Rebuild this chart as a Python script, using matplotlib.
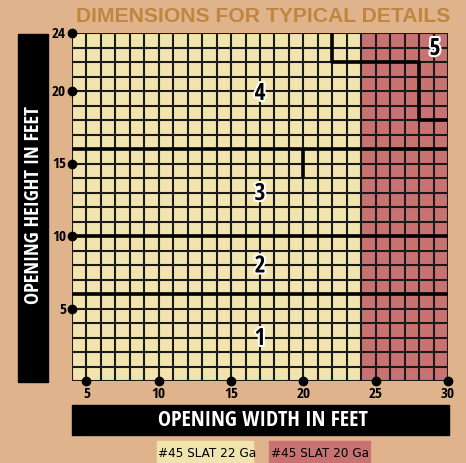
import matplotlib
matplotlib.use('Agg')
import matplotlib.pyplot as plt
from matplotlib.patches import Rectangle
import matplotlib.patheffects as pe

# chart data
width_range = [4, 30]
height_range = [0, 24]
width_ticks = [5, 10, 15, 20, 25, 30]
height_ticks = [5, 10, 15, 20, 24]
ga20_from = 24  # widths above this use 20 Ga slats

# detail boundaries (x list, y list)
bound_x = [[4, 30], [4, 30], [4, 30], [20, 20], [22, 22, 28, 28, 30]]
bound_y = [[6, 6], [10, 10], [16, 16], [14, 16], [24, 22, 22, 18, 18]]

detail_labels = ['1', '2', '3', '4', '5']
label_x = [17, 17, 17, 17, 29.1]
label_y = [2.9, 7.9, 12.9, 19.8, 22.9]

legend_labels = ['#45 SLAT 22 Ga', '#45 SLAT 20 Ga']

bg = '#DFB48C'
yellow = '#F1E4AE'
red = '#C87272'
cond = ['Open Sans Condensed', 'DejaVu Sans']

fig = plt.figure(figsize=(4.66, 4.64), dpi=100, facecolor=bg)
W, H = 466, 464
ax = fig.add_axes([72 / W, 1 - 382 / H, (448 - 72) / W, (382 - 34) / H])
ax.set_xlim(width_range)
ax.set_ylim(height_range)

ax.axvspan(width_range[0], ga20_from, color=yellow, lw=0)
ax.axvspan(ga20_from, width_range[1], color=red, lw=0)

# 1 ft grid
for x in range(width_range[0], width_range[1] + 1):
    ax.axvline(x, color='#1a1a1a', lw=1.5, zorder=2)
for y in range(height_range[0], height_range[1] + 1):
    ax.axhline(y, color='#1a1a1a', lw=1.5, zorder=2)

for bx, by in zip(bound_x, bound_y):
    ax.plot(bx, by, color='black', lw=2.6, zorder=3, solid_capstyle='butt')

for t, x, y in zip(detail_labels, label_x, label_y):
    ax.text(x, y, t, ha='center', va='center', fontsize=17, fontweight='bold',
            family=cond, color='black', zorder=5,
            path_effects=[pe.withStroke(linewidth=3, foreground='white')])

# tick dots
ax.plot(width_ticks, [height_range[0]] * len(width_ticks), 'o', color='black',
        ms=6, clip_on=False, zorder=6)
ax.plot([width_range[0]] * len(height_ticks), height_ticks, 'o', color='black',
        ms=6, clip_on=False, zorder=6)
for x in width_ticks:
    ax.text(x, -0.85, str(x), ha='center', va='center', fontsize=11,
            fontweight='bold', family=cond)
for y in height_ticks:
    ax.text(width_range[0] - 0.42, y, str(y), ha='right', va='center',
            fontsize=11, fontweight='bold', family=cond)

ax.set_xticks([])
ax.set_yticks([])
for s in ax.spines.values():
    s.set_visible(False)

# title
fig.text(450 / W, 1 - 17 / H, 'DIMENSIONS FOR TYPICAL DETAILS', ha='right',
         va='center', fontsize=15.2, fontweight='bold', color='#C28540',
         family=['Liberation Sans', 'DejaVu Sans'])

# axis title boxes
fig.patches.append(Rectangle((18 / W, 1 - 383 / H), 30 / W, 348 / H,
                             transform=fig.transFigure, color='black'))
fig.text(34 / W, 1 - 205 / H, 'OPENING HEIGHT IN FEET', rotation=90,
         ha='center', va='center', fontsize=14.6, fontweight='bold',
         color='white', family=cond)
fig.patches.append(Rectangle((72 / W, 1 - 436 / H), 377 / W, 30 / H,
                             transform=fig.transFigure, color='black'))
fig.text(263 / W, 1 - 421 / H, 'OPENING WIDTH IN FEET', ha='center',
         va='center', fontsize=15.8, fontweight='bold', color='white',
         family=cond)

# legend boxes
fig.patches.append(Rectangle((157 / W, 0), 96 / W, 22 / H,
                             transform=fig.transFigure, color=yellow))
fig.text(207 / W, 10 / H, legend_labels[0], ha='center', va='center',
         fontsize=9.6, family='DejaVu Sans', stretch='condensed')
fig.patches.append(Rectangle((269 / W, 0), 101 / W, 22 / H,
                             transform=fig.transFigure, color=red))
fig.text(320 / W, 10 / H, legend_labels[1], ha='center', va='center',
         fontsize=9.6, family='DejaVu Sans', stretch='condensed')

fig.savefig('out.png', dpi=100, facecolor=bg)
